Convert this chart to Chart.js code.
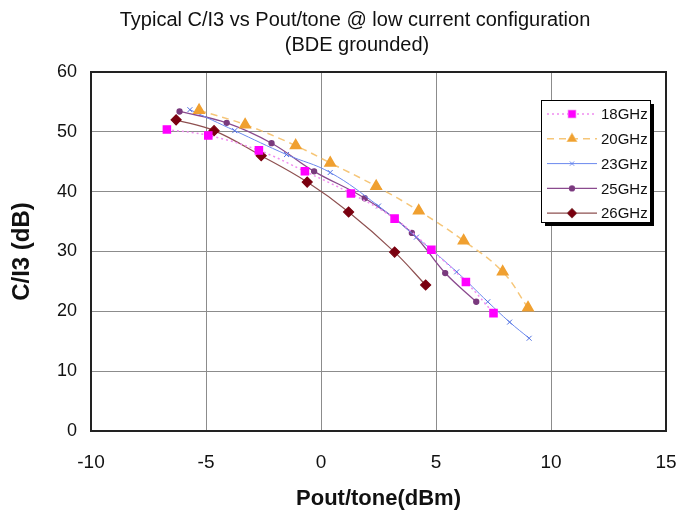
<!DOCTYPE html>
<html>
<head>
<meta charset="utf-8">
<style>
  html, body { margin: 0; padding: 0; background: #fff; }
  #wrap { width: 681px; height: 514px; }
</style>
</head>
<body>
<div id="wrap">
    <canvas id="c3Chart" width="681" height="514"></canvas>
</div>
<script src="https://cdn.jsdelivr.net/npm/chart.js"></script>
<script>
    // values
    var seriesNames = ['18GHz', '20GHz', '23GHz', '25GHz', '26GHz'];
    var titleLines = ['Typical C/I3 vs Pout/tone @ low current configuration', '(BDE grounded)'];

    var pout18 = [-6.7, -4.9, -2.7, -0.7, 1.3, 3.2, 4.8, 6.3, 7.5];
    var ci3_18 = [50.4, 49.4, 46.9, 43.4, 39.7, 35.5, 30.3, 24.9, 19.7];

    var pout20 = [-5.3, -3.3, -1.1, 0.4, 2.4, 4.25, 6.2, 7.9, 9.0];
    var ci3_20 = [53.6, 51.2, 47.7, 44.8, 40.9, 36.8, 31.8, 26.6, 20.6];

    var pout23 = [-5.7, -3.75, -1.5, 0.4, 2.5, 4.15, 5.9, 7.25, 8.2, 9.05];
    var ci3_23 = [53.7, 50.2, 46.2, 43.2, 37.6, 32.4, 26.6, 21.6, 18.2, 15.5];

    var pout25 = [-6.15, -4.1, -2.15, -0.3, 1.9, 3.95, 5.4, 6.75];
    var ci3_25 = [53.4, 51.5, 48.1, 43.4, 38.9, 33.1, 26.4, 21.6];

    var pout26 = [-6.3, -4.65, -2.6, -0.6, 1.2, 3.2, 4.55];
    var ci3_26 = [52.0, 50.2, 46.0, 41.6, 36.6, 29.9, 24.4];

    var xTicks = [-10, -5, 0, 5, 10, 15];
    var yTicks = [0, 10, 20, 30, 40, 50, 60];

    function toPoints(xs, ys) {
        return xs.map(function (x, i) { return {x: x, y: ys[i]}; });
    }

    var FONT = "Arial, 'Liberation Sans', sans-serif";

    // two line title, sits a bit left of the plot centre in the original
    var topTitle = {
        id: 'topTitle',
        afterDraw: function (chart) {
            var c = chart.ctx;
            c.save();
            c.fillStyle = '#111';
            c.font = '20px ' + FONT;
            c.textAlign = 'center';
            c.textBaseline = 'middle';
            c.fillText(titleLines[0], 355, 20);
            c.fillText(titleLines[1], 357, 45);
            c.restore();
        }
    };

    // boxed legend with a drop shadow, inside the plot like the original
    var boxLegend = {
        id: 'boxLegend',
        afterDraw: function (chart) {
            var ctx = chart.ctx;
            var x0 = 541, y0 = 100, w = 109, h = 122;
            ctx.save();
            ctx.fillStyle = '#000';
            ctx.fillRect(x0 + 4, y0 + 4, w, h);
            ctx.fillStyle = '#fff';
            ctx.fillRect(x0, y0, w, h);
            ctx.strokeStyle = '#000';
            ctx.lineWidth = 1;
            ctx.strokeRect(x0 + 0.5, y0 + 0.5, w, h);
            chart.data.datasets.forEach(function (ds, i) {
                var cy = y0 + 14 + i * 24.8;
                ctx.strokeStyle = ds.borderColor;
                ctx.lineWidth = ds.borderWidth;
                ctx.setLineDash(ds.borderDash || []);
                ctx.beginPath();
                ctx.moveTo(x0 + 6, cy);
                ctx.lineTo(x0 + 56, cy);
                ctx.stroke();
                ctx.setLineDash([]);
                Chart.helpers.drawPoint(ctx, {
                    pointStyle: ds.pointStyle,
                    radius: ds.legendRadius,
                    rotation: 0,
                    borderWidth: 1
                }, x0 + 31, cy);
                ctx.fillStyle = ds.pointBackgroundColor;
                ctx.strokeStyle = ds.pointBorderColor;
                ctx.fill();
                ctx.fillStyle = '#111';
                ctx.font = '15px ' + FONT;
                ctx.textBaseline = 'middle';
                ctx.fillText(ds.label, x0 + 60, cy + 1);
            });
            ctx.restore();
        }
    };

    var ctx = document.getElementById('c3Chart').getContext('2d');
    var chart = new Chart(ctx, {
        type: 'scatter',
        data: {
            datasets: [{
                label: seriesNames[0],
                data: toPoints(pout18, ci3_18),
                showLine: true,
                borderColor: '#f08cf0',
                borderWidth: 1.5,
                borderDash: [2, 3],
                pointStyle: 'rect',
                pointRadius: 5,
                legendRadius: 5,
                pointBackgroundColor: '#ff00ff',
                pointBorderColor: '#ff00ff',
                tension: 0.4
            }, {
                label: seriesNames[1],
                data: toPoints(pout20, ci3_20),
                showLine: true,
                borderColor: '#f6c678',
                borderWidth: 1.5,
                borderDash: [7, 5],
                pointStyle: 'triangle',
                pointRadius: 6,
                legendRadius: 5,
                pointBackgroundColor: '#f0a030',
                pointBorderColor: '#f0a030',
                tension: 0.4
            }, {
                label: seriesNames[2],
                data: toPoints(pout23, ci3_23),
                showLine: true,
                borderColor: '#6a88ee',
                borderWidth: 1,
                pointStyle: 'crossRot',
                pointRadius: 3.5,
                legendRadius: 3,
                pointBackgroundColor: '#5070e0',
                pointBorderColor: '#5070e0',
                tension: 0.4
            }, {
                label: seriesNames[3],
                data: toPoints(pout25, ci3_25),
                showLine: true,
                borderColor: '#8a4a8e',
                borderWidth: 1.3,
                pointStyle: 'circle',
                pointRadius: 2.5,
                legendRadius: 2.5,
                pointBackgroundColor: '#7a3a7e',
                pointBorderColor: '#7a3a7e',
                tension: 0.4
            }, {
                label: seriesNames[4],
                data: toPoints(pout26, ci3_26),
                showLine: true,
                borderColor: '#8e5050',
                borderWidth: 1.2,
                pointStyle: 'rectRot',
                pointRadius: 5,
                legendRadius: 4.5,
                pointBackgroundColor: '#7a0010',
                pointBorderColor: '#7a0010',
                tension: 0.4
            }]
        },
        options: {
            responsive: false,
            animation: false,
            layout: { padding: { left: 0, right: 15, top: 72, bottom: 0 } },
            plugins: {
                legend: { display: false },
                tooltip: { enabled: false },
                title: { display: false }
            },
            scales: {
                x: {
                    type: 'linear',
                    min: -10,
                    max: 15,
                    afterBuildTicks: function (axis) {
                        axis.ticks = xTicks.map(function (v) { return {value: v}; });
                    },
                    afterFit: function (axis) {
                        axis.height = 83;
                        axis.paddingLeft = 0;
                        axis.paddingRight = 0;
                    },
                    grid: { color: '#8c8c8c', lineWidth: 1, drawTicks: false },
                    border: { color: '#222', width: 2 },
                    ticks: { color: '#111', font: { family: FONT, size: 19 }, padding: 20 },
                    title: {
                        display: true,
                        text: 'Pout/tone(dBm)',
                        color: '#111',
                        font: { family: FONT, size: 22, weight: 'bold', lineHeight: 1.2 },
                        padding: { top: 0, bottom: 2 }
                    }
                },
                y: {
                    type: 'linear',
                    min: 0,
                    max: 60,
                    afterBuildTicks: function (axis) {
                        axis.ticks = yTicks.map(function (v) { return {value: v}; });
                    },
                    afterFit: function (axis) {
                        axis.width = 91;
                        axis.paddingTop = 0;
                        axis.paddingBottom = 0;
                    },
                    grid: { color: '#8c8c8c', lineWidth: 1, drawTicks: false },
                    border: { color: '#222', width: 2 },
                    ticks: { color: '#111', font: { family: FONT, size: 18 }, padding: 14 },
                    title: {
                        display: true,
                        text: 'C/I3 (dB)',
                        color: '#111',
                        font: { family: FONT, size: 24, weight: 'bold', lineHeight: 1.2 },
                        padding: { top: 8, bottom: 0 }
                    }
                }
            }
        },
        plugins: [topTitle, boxLegend, {
            // close the frame on the top and right like the original plot box
            id: 'frame',
            beforeDatasetsDraw: function (chart) {
                var a = chart.chartArea, c = chart.ctx;
                c.save();
                c.strokeStyle = '#222';
                c.lineWidth = 2;
                c.strokeRect(a.left, a.top, a.right - a.left, a.bottom - a.top);
                c.restore();
            }
        }]
    });
</script>
</body>
</html>
